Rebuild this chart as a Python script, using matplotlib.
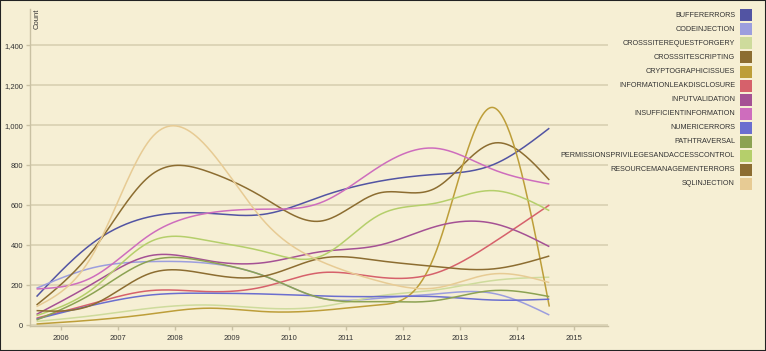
import numpy as np
import matplotlib.pyplot as plt
from matplotlib.patches import Rectangle
from matplotlib.ticker import FuncFormatter

plt.rcParams['font.family'] = ['Liberation Sans', 'DejaVu Sans']

# points sit mid-year (2005.57 ... 2014.57)
years = np.arange(2005, 2015) + 0.57
tick_years = list(range(2006, 2016))

names = ['BUFFERERRORS', 'CODEINJECTION', 'CROSSSITEREQUESTFORGERY', 'CROSSSITESCRIPTING',
         'CRYPTOGRAPHICISSUES', 'INFORMATIONLEAKDISCLOSURE', 'INPUTVALIDATION',
         'INSUFFICIENTINFORMATION', 'NUMERICERRORS', 'PATHTRAVERSAL',
         'PERMISSIONSPRIVILEGESANDACCESSCONTROL', 'RESOURCEMANAGEMENTERRORS', 'SQLINJECTION']
colors = ['#5254a3', '#9c9ede', '#cedb9c', '#8c6d31', '#bd9e39', '#d6616b', '#a55194',
          '#ce6dbd', '#6b6ecf', '#8ca252', '#b5cf6b', '#8c6d31', '#e7cb94']

buffer_errors = [144, 415, 544, 561, 556, 645, 720, 755, 802, 986]
code_injection = [186, 289, 319, 311, 247, 136, 136, 157, 161, 52]
csrf = [20, 49, 86, 102, 86, 94, 147, 177, 224, 241]
xss = [102, 380, 750, 770, 636, 522, 661, 686, 910, 727]
crypto = [7, 27, 57, 86, 69, 75, 102, 360, 1090, 94]
info_leak = [36, 111, 174, 169, 194, 264, 241, 261, 411, 602]
input_validation = [55, 211, 349, 324, 314, 369, 400, 494, 511, 394]
insufficient_info = [182, 244, 455, 561, 581, 615, 791, 886, 781, 707]
numeric_errors = [32, 102, 152, 161, 157, 147, 144, 144, 127, 131]
path_traversal = [27, 163, 324, 319, 247, 136, 119, 124, 174, 144]
permissions = [49, 186, 419, 424, 369, 347, 550, 611, 674, 574]
resource_mgmt = [74, 105, 261, 257, 247, 336, 324, 294, 282, 347]
sql_injection = [94, 361, 932, 890, 519, 319, 222, 187, 257, 214]

series = [buffer_errors, code_injection, csrf, xss, crypto, info_leak, input_validation,
          insufficient_info, numeric_errors, path_traversal, permissions, resource_mgmt,
          sql_injection]


def smooth(x, y, n=40):
    # natural cubic spline through the points
    x = np.asarray(x, float)
    y = np.asarray(y, float)
    k = len(x)
    h = np.diff(x)
    A = np.zeros((k, k))
    b = np.zeros(k)
    A[0, 0] = A[-1, -1] = 1
    for i in range(1, k - 1):
        A[i, i - 1] = h[i - 1]
        A[i, i] = 2 * (h[i - 1] + h[i])
        A[i, i + 1] = h[i]
        b[i] = 6 * ((y[i + 1] - y[i]) / h[i] - (y[i] - y[i - 1]) / h[i - 1])
    m = np.linalg.solve(A, b)
    xs, ys = [], []
    for i in range(k - 1):
        t = np.linspace(x[i], x[i + 1], n, endpoint=(i == k - 2))
        a = x[i + 1] - t
        c = t - x[i]
        s = (m[i] * a ** 3 + m[i + 1] * c ** 3) / (6 * h[i]) \
            + (y[i] / h[i] - m[i] * h[i] / 6) * a + (y[i + 1] / h[i] - m[i + 1] * h[i] / 6) * c
        xs.append(t)
        ys.append(s)
    return np.concatenate(xs), np.concatenate(ys)


bg = '#f6efd4'
W, H = 766, 351
fig = plt.figure(figsize=(W / 100, H / 100), dpi=100, facecolor=bg)
ax = fig.add_axes([30 / W, (H - 326) / H, 578 / W, 317 / H], facecolor=bg)

for vals, col in zip(series, colors):
    sx, sy = smooth(years, vals)
    ax.plot(sx, sy, color=col, lw=1.1, solid_capstyle='butt')

ax.set_xlim(2005.455, 2015.6)
ax.set_ylim(-3, 1582)
ax.set_yticks(range(0, 1401, 200))
ax.yaxis.set_major_formatter(FuncFormatter(lambda v, p: '{:,.0f}'.format(v)))
ax.set_xticks(tick_years)
ax.grid(axis='y', color='#d8d0b2', lw=1.2)
ax.set_axisbelow(True)
for s in ['top', 'right']:
    ax.spines[s].set_visible(False)
for s in ['left', 'bottom']:
    ax.spines[s].set_color('#c9c1a3')
    ax.spines[s].set_linewidth(1.0)
ax.tick_params(axis='both', labelsize=5.5, colors='#c9c1a3', labelcolor='#333333', length=3, width=1)
ax.tick_params(axis='y', pad=2)
ax.text(0.006, 1.0, 'Count', rotation=90, va='top', ha='left', fontsize=5.5,
        color='#333333', transform=ax.transAxes)

# legend on the right
for i, (name, col) in enumerate(zip(names, colors)):
    yc = 15.3 + i * 14.05
    fig.patches.append(Rectangle((740 / W, 1 - (yc + 6) / H), 12 / W, 12 / H,
                                 transform=fig.transFigure, facecolor=col, edgecolor='none'))
    fig.text(735 / W, 1 - yc / H, name, ha='right', va='center', fontsize=5.2, color='#333333')

fig.patches.append(Rectangle((0, 0), 1, 1, transform=fig.transFigure, fill=False,
                             edgecolor='#222222', lw=1.5))

fig.savefig('out.png', dpi=100, facecolor=bg)
